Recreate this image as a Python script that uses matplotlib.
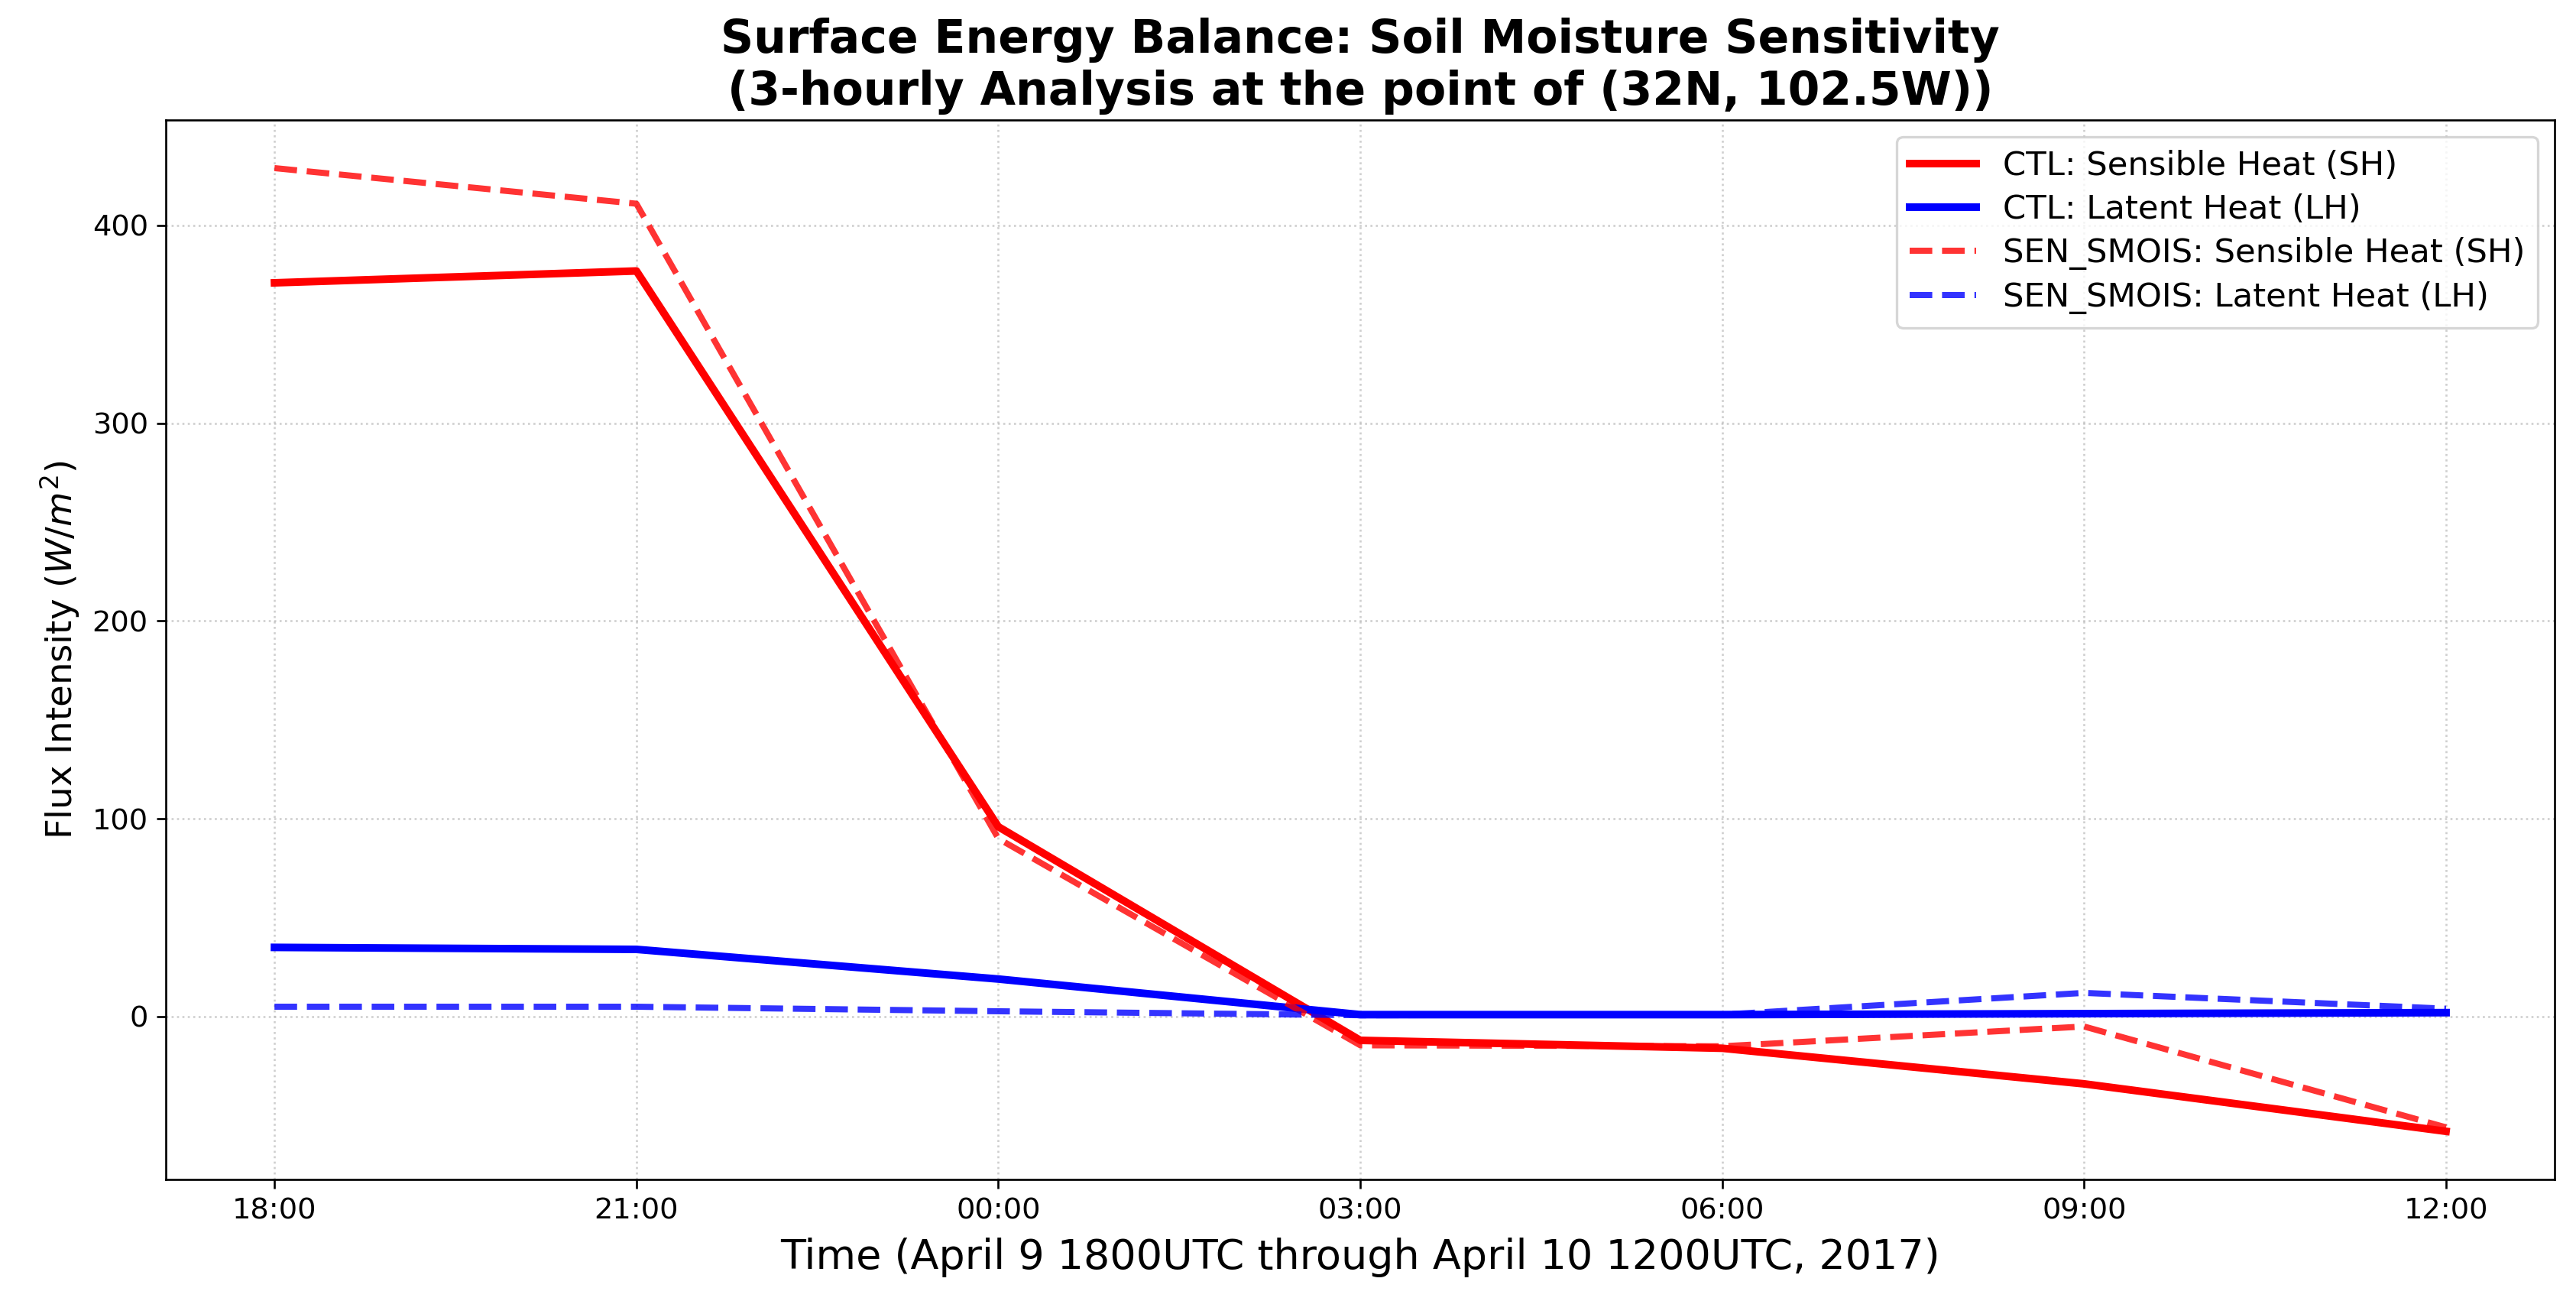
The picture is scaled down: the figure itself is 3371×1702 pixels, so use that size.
import matplotlib
matplotlib.use('Agg')
import matplotlib.pyplot as plt

# 3-hourly times, April 9 18UTC -> April 10 12UTC
times = ['18:00', '21:00', '00:00', '03:00', '06:00', '09:00', '12:00']

# fluxes in W/m^2
ctl_sh = [371, 377, 96, -12, -16, -34, -58]
ctl_lh = [35, 34, 19, 1, 1, 1.5, 2]
sen_sh = [429, 411, 90, -14.5, -15, -5, -56]
sen_lh = [5, 5, 2.7, 0.7, 1, 12, 4]

fig = plt.figure(figsize=(3371 / 240, 1702 / 240), dpi=240)
ax = fig.add_axes([0.0644, 0.0934, 0.9273, 0.8144])

x = range(len(times))
ax.plot(x, ctl_sh, color='red', linewidth=3, label='CTL: Sensible Heat (SH)')
ax.plot(x, ctl_lh, color='blue', linewidth=3, label='CTL: Latent Heat (LH)')
ax.plot(x, sen_sh, color='red', linewidth=2.4, linestyle='--', alpha=0.8,
        label='SEN_SMOIS: Sensible Heat (SH)')
ax.plot(x, sen_lh, color='blue', linewidth=2.4, linestyle='--', alpha=0.8,
        label='SEN_SMOIS: Latent Heat (LH)')

ax.set_xticks(list(x))
ax.set_xticklabels(times)
ax.tick_params(labelsize=11.5)
ax.set_xlabel('Time (April 9 1800UTC through April 10 1200UTC, 2017)',
              fontsize=16.2, labelpad=5)
ax.set_ylabel('Flux Intensity ($W/m^2$)', fontsize=14)
ax.set_title('Surface Energy Balance: Soil Moisture Sensitivity\n'
             '(3-hourly Analysis at the point of (32N, 102.5W))',
             fontsize=18, fontweight='bold')
ax.grid(True, linestyle=':', alpha=0.6)
ax.legend(loc='upper right', fontsize=13, labelspacing=0.35)

fig.savefig('out.png', dpi=240)
